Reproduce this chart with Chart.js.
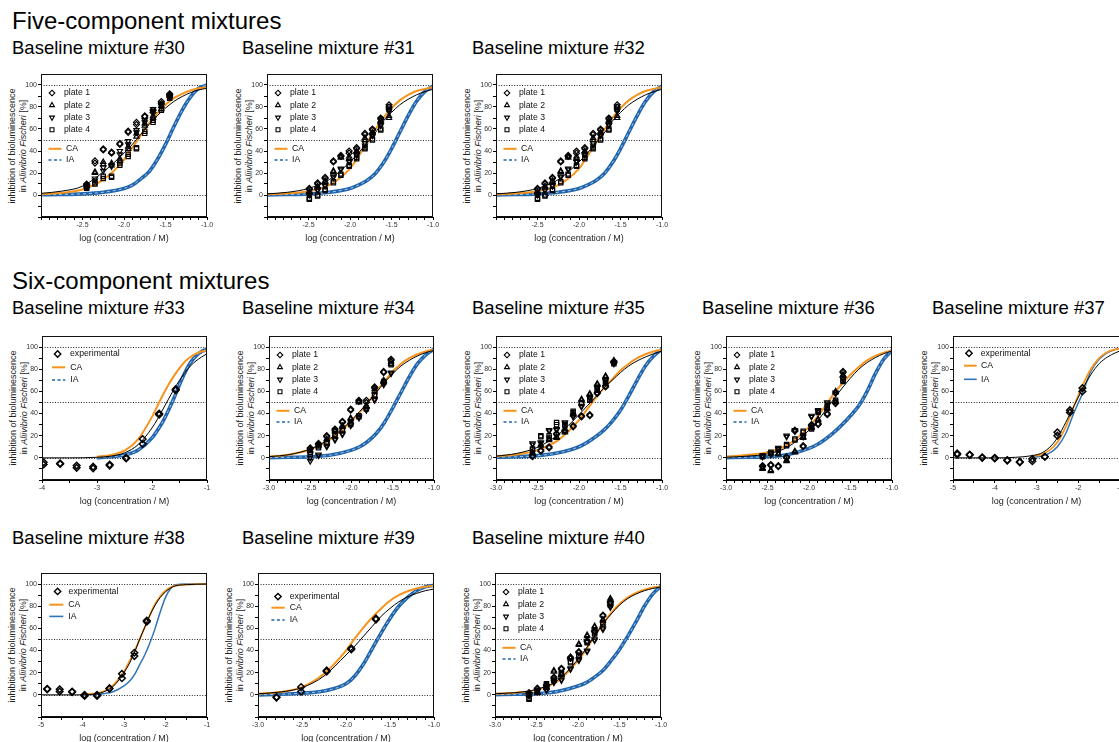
<!DOCTYPE html>
<html><head><meta charset="utf-8">
<script src="https://cdn.jsdelivr.net/npm/chart.js@4.4.1/dist/chart.umd.min.js"></script>
<style>
html,body{margin:0;padding:0;background:#fff;}
body{width:1119px;height:742px;overflow:hidden;position:relative;font-family:'Liberation Sans',Arial,Helvetica,sans-serif;color:#000;}
.h1{position:absolute;font-size:24px;line-height:24px;white-space:nowrap;}
.h2{position:absolute;font-size:18.5px;line-height:18.5px;white-space:nowrap;}
.ylab{position:absolute;width:200px;height:22px;font-size:9px;line-height:11px;text-align:center;transform:rotate(-90deg);white-space:nowrap;color:#222;}
canvas{position:absolute;}
</style></head><body>
<div class="h1" style="left:12px;top:9px">Five-component mixtures</div>
<div class="h1" style="left:12px;top:269px">Six-component mixtures</div>
<script>
// ---------- texts ----------
const xTitle = 'log (concentration / M)';
const yTitle1 = 'inhibition of bioluminescence';
const yTitle2a = 'in ', yTitle2b = 'Aliivibrio Fischeri', yTitle2c = ' [%]';
const plateNames = ['plate 1', 'plate 2', 'plate 3', 'plate 4'];
const expName = 'experimental';
const modelNames = ['CA', 'IA'];

// ---------- tick labels ----------
const yTickVals = [-20, -10, 0, 10, 20, 30, 40, 50, 60, 70, 80, 90, 100];
const yLabelVals = [0, 20, 40, 60, 80, 100];
const refValues = [0, 50, 100];
const xMajorRow1 = [-2.5, -2.0, -1.5, -1.0];
const xMajor3to1 = [-3.0, -2.5, -2.0, -1.5, -1.0];
const xMajor4to1 = [-4, -3, -2, -1];
const xMajor5to1 = [-5, -4, -3, -2, -1];

// ---------- curve sampling x positions ----------
const gridC = [-3.0, -2.75, -2.5, -2.25, -2.0, -1.9, -1.8, -1.7, -1.6, -1.5, -1.4, -1.3, -1.2, -1.1, -1.0];
const gridD = [-4, -3.5, -3, -2.75, -2.5, -2.25, -2, -1.9, -1.8, -1.7, -1.6, -1.5, -1.4, -1.3, -1.2, -1.1, -1];
const gridE = [-5, -4.5, -4, -3.5, -3.1, -2.9, -2.7, -2.5, -2.3, -2.1, -1.9, -1.7, -1.5, -1.3, -1.1, -1];
const gridF = [-5, -4.5, -4, -3.75, -3.5, -3.25, -3, -2.875, -2.75, -2.625, -2.5, -2.375, -2.25, -2.125, -2, -1.875, -1.75, -1.5, -1];

// ---------- #30 ----------
const conc30 = [-2.45, -2.35, -2.25, -2.15, -2.05, -1.95, -1.85, -1.75, -1.65, -1.55, -1.45];
const p1_30 = [[10,9],[31,29],[42,41],[39,38],[47,46],[58,57],[66,64],[72,71],[77,75],[85,83],[92,91]];
const p2_30 = [[9,8],[21,20],[30,28],[29,27],[33,31],[44,42],[56,53],[65,63],[72,70],[81,78],[91,90]];
const p3_30 = [[8,7],[15,13],[25,22],[27,26],[40,37],[49,46],[59,57],[68,66],[78,76],[83,81],[90,89]];
const p4_30 = [[7,6],[11,10],[17,15],[16,17],[29,27],[37,35],[42,43],[58,56],[68,66],[82,77],[89,88]];
const fit30 = [1.5,3.5,8,21,38,46,55,64,72,79,85,89.5,93,95.5,97];
const ca30 = [0.8,2,5,14,32,43,54,65,74,82,88,92,95,97,98];
const ia30 = [0.2,0.5,1,2.5,6,9,14.5,21,32,46,62,77,89,97,100];

// ---------- #31 ----------
const conc31 = [-2.49, -2.39, -2.30, -2.20, -2.11, -2.01, -1.92, -1.82, -1.73, -1.63, -1.53];
const p1_31 = [[6,5],[11,10],[16,15],[31,30],[36,35],[40,38],[43,42],[56,55],[60,59],[70,69],[82,80]];
const p2_31 = [[3,2],[8,7],[13,12],[22,21],[35,34],[35,33],[40,39],[52,50],[57,56],[68,67],[72,70]];
const p3_31 = [[1,0],[5,4],[9,8],[17,16],[24,23],[31,30],[37,36],[47,45],[55,54],[64,63],[77,76]];
const p4_31 = [[-3,-4],[0,-1],[5,4],[12,11],[19,18],[27,26],[34,33],[43,42],[51,50],[60,59],[80,78]];
const fit31 = [1,2.5,6,14,30,38,47,56,67,75,82,87,91,94,96];
const ca31 = [0.5,1.5,3.5,9,24,35,47,59,70,79,86,91,94.5,96.5,98];
const ia31 = [0.1,0.4,1,2.5,6,9,13,19,29,42,57,72,85,94,99];

// ---------- #32 ----------
const conc32 = [-2.50, -2.41, -2.32, -2.22, -2.13, -2.03, -1.93, -1.83, -1.74, -1.64, -1.54];
const p1_32 = [[6,5],[11,10],[16,15],[31,30],[36,35],[40,38],[43,42],[56,55],[60,59],[70,69],[82,80]];
const p2_32 = [[3,2],[8,7],[13,12],[22,21],[35,34],[35,33],[40,39],[52,50],[57,56],[68,67],[72,70]];
const p3_32 = [[1,0],[5,4],[9,8],[17,16],[24,23],[31,30],[37,36],[47,45],[55,54],[64,63],[77,76]];
const p4_32 = [[-3,-4],[0,-1],[5,4],[12,11],[19,18],[27,26],[34,33],[43,42],[51,50],[60,59],[80,78]];
const fit32 = [1,2.5,6,14,30,38,47,56,67,75,82,87,91,94,96];
const ca32 = [0.5,1.5,3.5,9,24,35,47,59,70,79,86,91,94.5,96.5,98];
const ia32 = [0.1,0.4,1,2.5,6,9,13,19,29,42,57,72,85,94,99];

// ---------- #33 ----------
const conc33 = [-3.97,-3.97,-3.67,-3.67,-3.37,-3.37,-3.07,-3.07,-2.77,-2.77,-2.47,-2.47,-2.17,-2.17,-1.87,-1.87,-1.57,-1.57];
const resp33 = [-4,-6,-5,-5.5,-7,-9,-8,-9.5,-6,-7,-0.5,0,17,12.5,39,40,61,62];
const fit33 = [0,0,0.5,1.5,4.5,12,27,35,44,53,62,70,77,83,87.5,91,94];
const ca33 = [null,null,1,2.5,6.5,17,37,47,57,66,74,81,87,91,94,96,97];
const ia33 = [null,null,0,1,2.5,7,18,25,33,43,54,66,77,86,92,96,98];

// ---------- #34 ----------
const conc34 = [-2.50, -2.40, -2.30, -2.20, -2.11, -2.01, -1.91, -1.82, -1.72, -1.61, -1.52];
const p1_34 = [[9,8],[13,12],[20,19],[26,25],[33,32],[44,43],[52,51],[52,50],[64,63],[78,77],[89,88]];
const p2_34 = [[7,6],[12,11],[17,16],[25,24],[29,28],[36,35],[51,50],[47,46],[62,60],[70,69],[87,85]];
const p3_34 = [[0,-3],[2,3],[11,10],[17,16],[22,21],[30,29],[37,36],[44,43],[53,52],[67,66],[77,76]];
const p4_34 = [[5,3],[10,9],[14,13],[21,20],[26,25],[31,30],[38,37],[45,44],[57,56],[69,68],[85,84]];
const fit34 = [1,3,8,18,34,42,50,59,68,76,83,88,92,95,97];
const ca34 = [1,3,7.5,17,33,41,50,60,69,78,85,90,93.5,96,97.5];
const ia34 = [0.2,0.5,1,2.5,7,10,15,22,32,45,59,73,85,93,98];

// ---------- #35 ----------
const conc35 = [-2.56, -2.46, -2.36, -2.27, -2.17, -2.07, -1.97, -1.87, -1.78, -1.68, -1.58];
const p1_35 = [[1,2],[6,7],[9,10],[22,21],[25,24],[29,28],[38,37],[38,39],[59,58],[65,64],[87,86]];
const p2_35 = [[5,4],[12,11],[17,16],[19,18],[24,23],[40,39],[53,52],[58,57],[67,66],[74,73],[88,87]];
const p3_35 = [[13,12],[14,13],[25,24],[26,25],[32,31],[38,37],[47,46],[55,54],[64,63],[70,69],[86,85]];
const p4_35 = [[8,7],[20,19],[20,18],[32,30],[30,29],[42,41],[50,49],[53,52],[62,61],[68,67],[86,85]];
const fit35 = [1.5,4,9.5,21,39,47,55,63,70,77,83,87.5,91,94,96.5];
const ca35 = [1.5,3,7,16,34,44,54,63,71,79,85,90,93.5,96,97.5];
const ia35 = [0.5,1,2,4.5,10,14,19,25,33,43,56,70,83,92,98];

// ---------- #36 ----------
const conc36 = [-2.56, -2.46, -2.37, -2.27, -2.17, -2.07, -1.97, -1.89, -1.78, -1.68, -1.59];
const p1_36 = [[-7,-8],[-6,-7],[-7,-8],[1,0],[25,24],[10,11],[30,29],[30,31],[40,39],[50,49],[78,77]];
const p2_36 = [[-10,-9],[-12,-11],[3,4],[-3,-2],[5,6],[19,18],[28,27],[35,34],[45,44],[60,59],[75,74]];
const p3_36 = [[2,1],[4,3],[9,8],[20,19],[25,24],[20,19],[38,37],[43,42],[50,49],[59,58],[72,71]];
const p4_36 = [[1,2],[5,4],[8,7],[12,11],[17,16],[24,23],[27,26],[42,41],[47,46],[52,51],[70,69]];
const fit36 = [0.5,1.5,3.5,10,25,33,43,53,63,72,80,86,90.5,94,96.5];
const ca36 = [1,2.5,5,12,28,37,47,58,67,75,82,88,92,95,97];
const ia36 = [0.2,0.5,1,3,8.5,12,17,23,30,38,47,60,76,89,97];

// ---------- #37 ----------
const conc37 = [-4.9,-4.9,-4.6,-4.6,-4.3,-4.3,-4.0,-4.0,-3.7,-3.7,-3.4,-3.4,-3.1,-3.1,-2.8,-2.8,-2.5,-2.5,-2.2,-2.2,-1.9,-1.9];
const resp37 = [4,3,3,2.5,0.5,0,0,-0.5,-2,-2.5,-4,-3.5,-1,-3,1,1,23,20,43,41,63,60];
const fit37 = [0,0,0,0.5,2,4,9,18,32,47,62,75,85,91,95,96.5];
const ca37 = [null,null,null,null,1.5,3,6.5,14,28,47,65,80,90,95.5,98,98.5];
const ia37 = [null,null,null,null,0.5,1.5,4,10,22,41,58,78,89,95,98,99];

// ---------- #38 ----------
const conc38 = [-4.85,-4.85,-4.55,-4.55,-4.25,-4.25,-3.95,-3.95,-3.65,-3.65,-3.35,-3.35,-3.05,-3.05,-2.75,-2.75,-2.45,-2.45];
const resp38 = [5,5.5,5,3,3,2.5,-1,0,-1,0,6,5.5,19,15,38,35,67,66];
const fit38 = [0,0,0,0.5,2.5,8,20,28,38,50,61,72,81,88,93,96.5,98.5,99.5,100];
const ca38 = [null,null,0.5,1,3,9,21,30,39,50,61,72,82,89,94,97,98.5,99.5,100];
const ia38 = [null,null,0,0.3,1,3,8,12,18,27,36,47,60,75,88,96,99.5,100,100];

// ---------- #39 ----------
const conc39 = [-2.79,-2.79,-2.51,-2.51,-2.22,-2.22,-1.94,-1.94,-1.66,-1.66];
const resp39 = [-2,-2.5,7,3,22,21,41,42,68,69];
const fit39 = [1,2.5,6.5,17,36,44,53,62,71,78,84,88.5,91.5,94,95.5];
const ca39 = [1,2.5,7,19,40,51,61,70,78,85,90,93.5,96,97.5,98.5];
const ia39 = [0,0.5,1.5,3.5,10,17,28,42,56,69,80,88,94,97.5,99];

// ---------- #40 ----------
const conc40 = [-2.59, -2.49, -2.38, -2.29, -2.20, -2.09, -1.99, -1.89, -1.80, -1.70, -1.61];
const p1_40 = [[2,1],[6,5],[9,8],[16,15],[24,23],[34,33],[39,38],[49,48],[58,57],[72,71],[84,83]];
const p2_40 = [[1,0],[3,2],[7,6],[22,21],[19,18],[34,33],[46,45],[54,53],[62,61],[68,67],[87,86]];
const p3_40 = [[0,-1],[4,3],[5,4],[12,11],[14,13],[24,23],[32,31],[40,39],[50,49],[60,59],[80,79]];
const p4_40 = [[-4,-3],[3,2],[10,9],[14,13],[20,19],[30,29],[36,35],[48,47],[56,55],[65,64],[82,81]];
const fit40 = [1,2,5,13,32,42,53,64,73,81,87,91,94,96,97.5];
const ca40 = [1,2,4.5,12,31,41,53,64,74,82,88,92,95,97,98];
const ia40 = [0.2,0.5,1,3,8,11,16,22,31,41,53,66,80,91,98];

// ---------- styling / layout ----------
const ORANGE = '#f7941d', BLUE = '#2166ac', BLUE2 = '#2f74b5';
const FONT = "'Liberation Sans', Arial, sans-serif";
Chart.defaults.font.family = FONT;
const YW = 30, PT = 8, PR = 10, XH = 34;
const legPlates = {mx: 11, tx: 23, lx0: 7.5, lx1: 20.5, ltx: 25, rows: [19, 31.2, 43.5, 55.8, 74.8, 86]};

const panels = [
  {title:'Baseline mixture #30', tx:12, ty:39, box:[41,74,207,217], xr:[-3,-1], major:xMajorRow1, minor:0.1, dec:1, conc:conc30, plates:[p1_30,p2_30,p3_30,p4_30], cx:gridC, fit:fit30, ca:ca30, ia:ia30, band:true, leg:legPlates},
  {title:'Baseline mixture #31', tx:242, ty:39, box:[267,74,433,217], xr:[-3,-1], major:xMajorRow1, minor:0.1, dec:1, conc:conc31, plates:[p1_31,p2_31,p3_31,p4_31], cx:gridC, fit:fit31, ca:ca31, ia:ia31, band:true, leg:legPlates},
  {title:'Baseline mixture #32', tx:472, ty:39, box:[496,74,662,217], xr:[-3,-1], major:xMajorRow1, minor:0.1, dec:1, conc:conc32, plates:[p1_32,p2_32,p3_32,p4_32], cx:gridC, fit:fit32, ca:ca32, ia:ia32, band:true, leg:legPlates},
  {title:'Baseline mixture #33', tx:12, ty:299, box:[42,336,207,480], xr:[-4,-1], major:xMajor4to1, minor:0.5, dec:0, conc:conc33, resp:resp33, cx:gridD, fit:fit33, ca:ca33, ia:ia33, band:true, leg:{mx:15.6, tx:28, lx0:10, lx1:23.3, ltx:28.3, rows:[18,31.3,44]}},
  {title:'Baseline mixture #34', tx:242, ty:299, box:[269,336,434,480], xr:[-3,-1], major:xMajor3to1, minor:0.1, dec:1, conc:conc34, plates:[p1_34,p2_34,p3_34,p4_34], cx:gridC, fit:fit34, ca:ca34, ia:ia34, band:true, leg:legPlates},
  {title:'Baseline mixture #35', tx:472, ty:299, box:[496,336,662,480], xr:[-3,-1], major:xMajor3to1, minor:0.1, dec:1, conc:conc35, plates:[p1_35,p2_35,p3_35,p4_35], cx:gridC, fit:fit35, ca:ca35, ia:ia35, band:true, leg:legPlates},
  {title:'Baseline mixture #36', tx:702, ty:299, box:[726,336,892,480], xr:[-3,-1], major:xMajor3to1, minor:0.1, dec:1, conc:conc36, plates:[p1_36,p2_36,p3_36,p4_36], cx:gridC, fit:fit36, ca:ca36, ia:ia36, band:true, leg:legPlates},
  {title:'Baseline mixture #37', tx:932, ty:299, box:[953,336,1120,480], xr:[-5,-1], major:xMajor5to1, minor:0.5, dec:0, conc:conc37, resp:resp37, cx:gridE, fit:fit37, ca:ca37, ia:ia37, band:false, leg:{mx:16, tx:27.7, lx0:11, lx1:23.7, ltx:28, rows:[17.3,29.7,43.3]}},
  {title:'Baseline mixture #38', tx:12, ty:529, box:[41,573,207,717], xr:[-5,-1], major:xMajor5to1, minor:0.5, dec:0, conc:conc38, resp:resp38, cx:gridF, fit:fit38, ca:ca38, ia:ia38, band:false, leg:{mx:16.6, tx:27.6, lx0:8.3, lx1:22.3, ltx:27.3, rows:[18.4,31.7,43.4]}},
  {title:'Baseline mixture #39', tx:242, ty:529, box:[258,573,434,717], xr:[-3,-1], major:xMajor3to1, minor:0.1, dec:1, conc:conc39, resp:resp39, cx:gridC, fit:fit39, ca:ca39, ia:ia39, band:true, leg:{mx:20, tx:31.7, lx0:13.4, lx1:26.7, ltx:31.7, rows:[23.6,34.7,47]}},
  {title:'Baseline mixture #40', tx:472, ty:529, box:[495,573,661,717], xr:[-3,-1], major:xMajor3to1, minor:0.1, dec:1, conc:conc40, plates:[p1_40,p2_40,p3_40,p4_40], cx:gridC, fit:fit40, ca:ca40, ia:ia40, band:true, leg:legPlates}
];

// ---------- helpers ----------
function makeTicks(min, max, step) {
  const out = []; const n = Math.round((max - min) / step);
  for (let i = 0; i <= n; i++) out.push(Math.round((min + i * step) * 1000) / 1000);
  return out;
}
function platePoints(conc, reps) { const d = []; conc.forEach((x, i) => reps[i].forEach(y => d.push({x, y}))); return d; }
function pairs(xs, ys) { const d = []; xs.forEach((x, i) => { if (ys[i] !== null && ys[i] !== undefined) d.push({x, y: ys[i]}); }); return d; }
function drawMarker(ctx, style, x, y, r, rot) {
  ctx.beginPath();
  if (style === 'rectRot') { ctx.moveTo(x, y - r); ctx.lineTo(x + r, y); ctx.lineTo(x, y + r); ctx.lineTo(x - r, y); ctx.closePath(); }
  else if (style === 'rect') { const s = Math.SQRT1_2 * r; ctx.rect(x - s, y - s, 2 * s, 2 * s); }
  else { let a = (rot || 0) * Math.PI / 180; for (let k = 0; k < 3; k++) { const px = x + Math.sin(a) * r, py = y - Math.cos(a) * r; if (k) ctx.lineTo(px, py); else ctx.moveTo(px, py); a += 2 * Math.PI / 3; } ctx.closePath(); }
  ctx.stroke();
}
const refLines = {
  id: 'refLines',
  beforeDatasetsDraw(chart) {
    const {ctx, chartArea: a, scales: {y}} = chart;
    ctx.save(); ctx.strokeStyle = '#222'; ctx.lineWidth = 1; ctx.setLineDash([1, 1.6]);
    refValues.forEach(v => { const py = Math.round(y.getPixelForValue(v)) + 0.5; ctx.beginPath(); ctx.moveTo(a.left, py); ctx.lineTo(a.right, py); ctx.stroke(); });
    ctx.restore();
  }
};
const frame = {
  id: 'frame',
  afterDraw(chart) {
    const {ctx, chartArea: a} = chart;
    ctx.save(); ctx.strokeStyle = '#111'; ctx.lineWidth = 1;
    ctx.strokeRect(Math.round(a.left) + 0.5, Math.round(a.top) + 0.5, Math.round(a.right - a.left) - 1, Math.round(a.bottom - a.top) - 1);
    ctx.restore();
  }
};

panels.forEach((p, idx) => {
  const [L, T, R, B] = p.box;
  const h = document.createElement('div'); h.className = 'h2'; h.style.left = p.tx + 'px'; h.style.top = p.ty + 'px'; h.textContent = p.title; document.body.appendChild(h);
  const yl = document.createElement('div'); yl.className = 'ylab';
  yl.style.left = (L - 23.5 - 100) + 'px'; yl.style.top = ((T + B) / 2 - 11) + 'px';
  yl.appendChild(document.createTextNode(yTitle1)); yl.appendChild(document.createElement('br'));
  yl.appendChild(document.createTextNode(yTitle2a)); const it = document.createElement('i'); it.textContent = yTitle2b; yl.appendChild(it); yl.appendChild(document.createTextNode(yTitle2c));
  document.body.appendChild(yl);

  const c = document.createElement('canvas');
  const W = R - L + YW + PR, H = B - T + PT + XH;
  c.width = W; c.height = H; c.style.left = (L - YW) + 'px'; c.style.top = (T - PT) + 'px'; c.style.width = W + 'px'; c.style.height = H + 'px';
  document.body.appendChild(c);

  const ds = [];
  const legItems = [];
  if (p.plates) {
    const styles = [['rectRot', 0], ['triangle', 0], ['triangle', 180], ['rect', 0]];
    p.plates.forEach((reps, k) => {
      ds.push({label: plateNames[k], data: platePoints(p.conc, reps), showLine: false, pointStyle: styles[k][0], pointRotation: styles[k][1], pointRadius: 3, pointBorderWidth: 1.2, pointBorderColor: '#000', pointBackgroundColor: 'rgba(0,0,0,0)', pointHoverRadius: 0});
      legItems.push({marker: styles[k][0], rot: styles[k][1], r: 2.8, bw: 1.1, text: plateNames[k]});
    });
  } else {
    ds.push({label: expName, data: pairs(p.conc, p.resp), showLine: false, pointStyle: 'rectRot', pointRadius: 3.3, pointBorderWidth: 1.5, pointBorderColor: '#000', pointBackgroundColor: 'rgba(0,0,0,0)', pointHoverRadius: 0});
    legItems.push({marker: 'rectRot', rot: 0, r: 3.2, bw: 1.4, text: expName});
  }
  const lineBase = {showLine: true, pointRadius: 0, pointHoverRadius: 0, pointHitRadius: 0, cubicInterpolationMode: 'monotone', fill: false};
  ds.push(Object.assign({label: 'fit', data: pairs(p.cx, p.fit), borderColor: '#000', borderWidth: 1}, lineBase));
  ds.push(Object.assign({label: modelNames[0], data: pairs(p.cx, p.ca), borderColor: ORANGE, borderWidth: p.band ? 2 : 1.8}, lineBase));
  legItems.push({line: ORANGE, lw: 2, text: modelNames[0]});
  if (p.band) {
    ds.push(Object.assign({label: modelNames[1] + ' dash', data: pairs(p.cx, p.ia), borderColor: 'rgba(175,205,235,0.9)', borderWidth: 1, borderDash: [3, 3]}, lineBase));
    ds.push(Object.assign({label: modelNames[1], data: pairs(p.cx, p.ia), borderColor: BLUE, borderWidth: 3.6}, lineBase));
    legItems.push({line: BLUE, lw: 1.5, dash: [3, 2.5], text: modelNames[1]});
  } else {
    ds.push(Object.assign({label: modelNames[1], data: pairs(p.cx, p.ia), borderColor: BLUE2, borderWidth: 1.5}, lineBase));
    legItems.push({line: BLUE2, lw: 1.6, text: modelNames[1]});
  }

  const lg = p.leg;
  const legendPlugin = {
    id: 'inLegend' + idx,
    afterDatasetsDraw(chart) {
      const {ctx, chartArea: a} = chart;
      ctx.save(); ctx.font = "8.7px " + FONT; ctx.textBaseline = 'middle'; ctx.fillStyle = '#111';
      legItems.forEach((item, i) => {
        const y = a.top + lg.rows[i];
        if (item.marker) {
          ctx.strokeStyle = '#000'; ctx.lineWidth = item.bw; ctx.setLineDash([]);
          drawMarker(ctx, item.marker, a.left + lg.mx, y, item.r, item.rot);
          ctx.fillText(item.text, a.left + lg.tx, y);
        } else {
          ctx.strokeStyle = item.line; ctx.lineWidth = item.lw; ctx.setLineDash(item.dash || []);
          ctx.beginPath(); ctx.moveTo(a.left + lg.lx0, y); ctx.lineTo(a.left + lg.lx1, y); ctx.stroke();
          ctx.setLineDash([]);
          ctx.fillText(item.text, a.left + lg.ltx, y);
        }
      });
      ctx.restore();
    }
  };

  const xt = makeTicks(p.xr[0], p.xr[1], p.minor);
  const isMajor = v => p.major.some(m => Math.abs(m - v) < 1e-6);

  new Chart(c, {
    type: 'scatter',
    data: {datasets: ds},
    options: {
      responsive: false, animation: false, devicePixelRatio: 1,
      layout: {padding: {left: 0, top: PT, right: PR, bottom: 0}},
      plugins: {legend: {display: false}, tooltip: {enabled: false}},
      scales: {
        x: {
          type: 'linear', min: p.xr[0], max: p.xr[1],
          afterBuildTicks: s => { s.ticks = xt.map(v => ({value: v})); },
          afterFit: s => { s.height = XH; },
          ticks: {autoSkip: false, maxRotation: 0, minRotation: 0, font: {size: 7}, color: '#333', padding: 1,
            callback: v => isMajor(v) ? Number(v).toFixed(p.dec) : ''},
          grid: {drawOnChartArea: false, drawTicks: true, tickLength: 3, tickColor: '#000', tickWidth: 1, color: '#000'},
          border: {display: true, color: '#000', width: 1},
          title: {display: true, text: xTitle, font: {size: 9}, color: '#222', padding: {top: 0, bottom: 6.6}}
        },
        y: {
          type: 'linear', min: -20, max: 110,
          afterBuildTicks: s => { s.ticks = yTickVals.map(v => ({value: v})); },
          afterFit: s => { s.width = YW; },
          ticks: {autoSkip: false, font: {size: 7}, color: '#333', padding: 1,
            callback: v => yLabelVals.includes(v) ? String(v) : ''},
          grid: {drawOnChartArea: false, drawTicks: true, tickLength: 3, tickColor: '#000', tickWidth: 1, color: '#000'},
          border: {display: true, color: '#000', width: 1}
        }
      }
    },
    plugins: [refLines, legendPlugin, frame]
  });
});
</script>
</body></html>
